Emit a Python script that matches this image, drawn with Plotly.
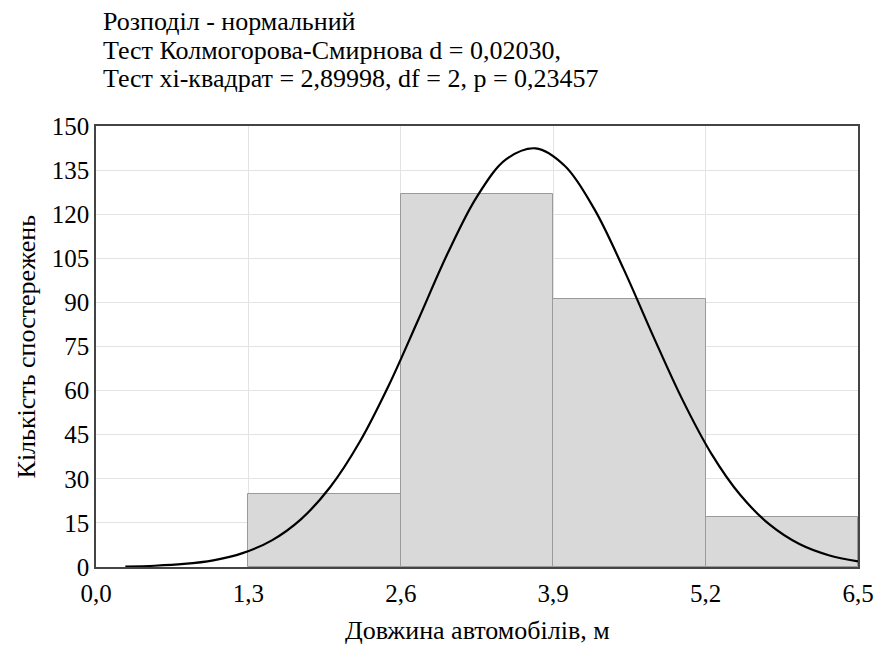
import plotly.graph_objects as go

# Histogram data
bin_left = [1.3, 2.6, 3.9, 5.2]
bin_width = 1.3
counts = [25, 127, 91, 17]

# Fitted normal curve
curve_x = [0.25, 0.5, 0.75, 1.0, 1.25, 1.5, 1.75, 2.0, 2.25, 2.5, 2.75, 3.0, 3.25,
           3.5, 3.75, 4.0, 4.25, 4.5, 4.75, 5.0, 5.25, 5.5, 5.75, 6.0, 6.25, 6.5]
curve_y = [0.17, 0.43, 1.03, 2.28, 4.71, 9.07, 16.3, 27.3, 42.6, 62.0, 84.2, 106.7, 126.0,
           138.7, 142.4, 136.4, 121.8, 101.4, 78.8, 57.1, 38.5, 24.3, 14.3, 7.8, 4.0, 1.9]

x_ticks = [0.0, 1.3, 2.6, 3.9, 5.2, 6.5]
y_ticks = list(range(0, 151, 15))

title_lines = [
    "Розподіл - нормальний",
    "Тест Колмогорова-Смирнова d = 0,02030,",
    "Тест хі-квадрат = 2,89998, df = 2, p = 0,23457",
]
x_title = "Довжина автомобілів, м"
y_title = "Кількість спостережень"

FONT = "Liberation Serif"

fig = go.Figure()
fig.add_trace(go.Bar(
    x=[b + bin_width / 2 for b in bin_left], y=counts, width=bin_width,
    marker=dict(color="#d9d9d9", line=dict(color="#9a9a9a", width=1)),
    hoverinfo="skip", showlegend=False,
))
fig.add_trace(go.Scatter(
    x=curve_x, y=curve_y, mode="lines", line=dict(color="black", width=2.2, shape="spline"),
    showlegend=False,
))

line_y = [1.237, 1.172, 1.107]
for txt, yy in zip(title_lines, line_y):
    fig.add_annotation(text=txt, xref="paper", yref="paper", x=0.0066, y=yy,
                       xanchor="left", yanchor="middle", showarrow=False,
                       font=dict(family=FONT, size=26, color="black"))

fig.add_annotation(text=x_title, xref="paper", yref="paper", x=0.5, y=-0.145,
                   xanchor="center", yanchor="middle", showarrow=False,
                   font=dict(family=FONT, size=26, color="black"))
fig.add_annotation(text=y_title, xref="paper", yref="paper", x=-0.0906, y=0.5,
                   xanchor="center", yanchor="middle", showarrow=False, textangle=-90,
                   font=dict(family=FONT, size=26, color="black"))

fig.update_layout(
    width=875, height=646,
    margin=dict(l=96, r=17, t=126, b=79),
    paper_bgcolor="white", plot_bgcolor="white",
    separators=", ",
    font=dict(family=FONT, size=25, color="black"),
    bargap=0,
)
fig.update_xaxes(
    range=[0, 6.5], tickvals=x_ticks, tickformat=".1f",
    showgrid=True, gridcolor="#e3e3e3", gridwidth=1,
    showline=True, linecolor="#444", linewidth=1.5, mirror=True,
    ticks="", zeroline=False, automargin=False, ticklabeloverflow="allow",
    ticklabelstandoff=3,
    tickfont=dict(family=FONT, size=25),
)
fig.update_yaxes(
    range=[0, 150], tickvals=y_ticks,
    showgrid=True, gridcolor="#e3e3e3", gridwidth=1,
    showline=True, linecolor="#444", linewidth=1.5, mirror=True,
    ticks="", zeroline=False, automargin=False, ticklabeloverflow="allow",
    tickfont=dict(family=FONT, size=25),
)

fig.write_html("out.html")
